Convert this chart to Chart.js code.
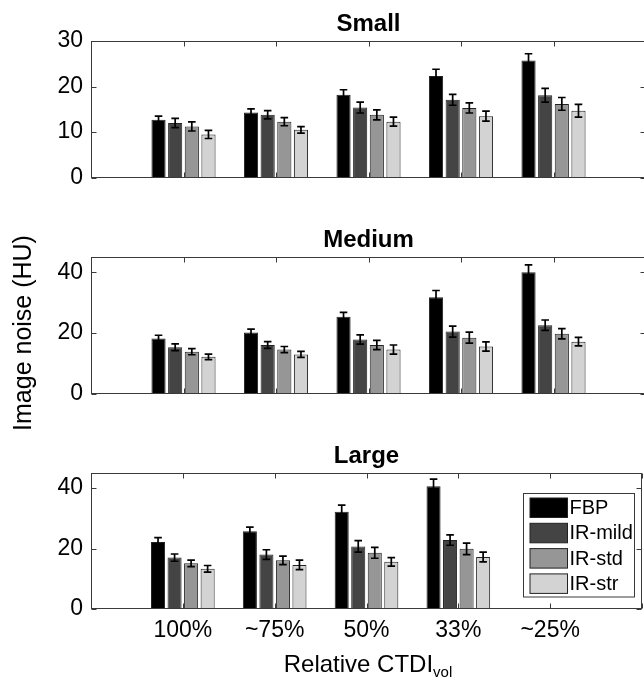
<!DOCTYPE html>
<html><head><meta charset="utf-8">
<script src="https://cdn.jsdelivr.net/npm/chart.js@4.4.1/dist/chart.umd.min.js"></script>
<style>
html,body{margin:0;padding:0;background:#fff;overflow:hidden;width:644px;height:683px;}
#wrap{position:relative;width:644px;height:683px;overflow:hidden;background:#fff;}
canvas{position:absolute;left:0;}
.lbl{position:absolute;font-family:'Liberation Sans',Arial,sans-serif;color:#000;white-space:nowrap;text-align:center;}
#ylab{left:-108px;top:319px;width:260px;height:28px;line-height:28px;font-size:25px;transform:rotate(-90deg);}
#xlab{left:68px;top:650px;width:600px;height:28px;line-height:28px;font-size:24px;}
#xlab sub{font-size:15px;line-height:0;vertical-align:-5px;}
</style></head><body>
<div id="wrap">
<canvas id="c1" width="650" height="216" style="top:0px"></canvas>
<canvas id="c2" width="650" height="216" style="top:216px"></canvas>
<canvas id="c3" width="650" height="251" style="top:432px"></canvas>
<div class="lbl" id="ylab">Image noise (HU)</div>
<div class="lbl" id="xlab">Relative CTDI<sub>vol</sub></div>
</div>
<script>
// ---------- data ----------
const categories = ['100%', '~75%', '50%', '33%', '~25%'];
const seriesNames = ['FBP', 'IR-mild', 'IR-std', 'IR-str'];

const smallTicks = [0, 10, 20, 30];
const mediumTicks = [0, 20, 40];
const largeTicks = [0, 20, 40];

// Small phantom
const smallFBP = [12.7, 14.3, 18.2, 22.3, 25.7];
const smallFBPErr = [0.8, 0.8, 1.1, 1.5, 1.5];
const smallMild = [12.0, 13.8, 15.4, 17.1, 18.1];
const smallMildErr = [1.0, 0.9, 1.2, 1.2, 1.5];
const smallStd = [11.25, 12.3, 13.8, 15.3, 16.2];
const smallStdErr = [1.0, 0.9, 1.1, 1.1, 1.4];
const smallStr = [9.5, 10.5, 12.3, 13.5, 14.7];
const smallStrErr = [0.9, 0.7, 1.0, 1.1, 1.4];

// Medium phantom
const mediumFBP = [18.2, 20.2, 25.4, 31.8, 40.0];
const mediumFBPErr = [1.1, 1.1, 1.4, 2.2, 2.4];
const mediumMild = [15.35, 16.1, 17.9, 20.5, 22.6];
const mediumMildErr = [1.1, 1.1, 1.5, 1.8, 1.7];
const mediumStd = [13.9, 14.6, 16.1, 18.5, 19.8];
const mediumStdErr = [1.0, 1.0, 1.5, 1.8, 1.7];
const mediumStr = [12.2, 13.0, 14.6, 15.6, 17.2];
const mediumStrErr = [0.9, 1.0, 1.5, 1.5, 1.4];

// Large phantom (no ~25% data)
const largeFBP = [22.2, 25.7, 32.2, 40.6, null];
const largeFBPErr = [1.4, 1.4, 2.2, 2.4, null];
const largeMild = [17.0, 18.0, 20.7, 22.8, null];
const largeMildErr = [1.2, 1.6, 1.9, 1.7, null];
const largeStd = [15.1, 16.1, 18.6, 19.9, null];
const largeStdErr = [1.1, 1.4, 1.8, 1.9, null];
const largeStr = [13.3, 14.6, 15.6, 17.2, null];
const largeStrErr = [1.1, 1.6, 1.4, 1.6, null];

// ---------- styles ----------
const FONT = "'Liberation Sans', Arial, Helvetica, sans-serif";
const seriesColors = ['#000000', '#444444', '#969696', '#d3d3d3'];
const edgeColor = '#222222';
const axisColor = '#3a3a3a';

// padded category axis: empty slot on each side like the original
const xLabels = [''].concat(categories, ['']);
function pad(arr) { return [null].concat(arr, [null]); }

function makeDatasets(vals, errs) {
  return seriesNames.map((name, i) => ({
    label: name,
    data: pad(vals[i]),
    errors: pad(errs[i]),
    backgroundColor: seriesColors[i],
    borderColor: edgeColor,
    borderWidth: 1,
    categoryPercentage: 0.72,
    barPercentage: 0.85
  }));
}

const framePlugin = {
  id: 'frame',
  beforeDatasetsDraw(chart) {
    const ctx = chart.ctx, a = chart.chartArea, xs = chart.scales.x, ys = chart.scales.y;
    ctx.save();
    ctx.strokeStyle = axisColor;
    ctx.lineWidth = 1;
    ctx.beginPath();
    const L = Math.round(a.left) + 0.5, R = Math.round(a.right) - 0.5;
    const T = Math.round(a.top) + 0.5, B = Math.round(a.bottom) - 0.5;
    xs.ticks.forEach((t, i) => {
      const px = Math.round(xs.getPixelForTick(i)) + 0.5;
      ctx.moveTo(px, T); ctx.lineTo(px, T + 5);
      ctx.moveTo(px, B); ctx.lineTo(px, B - 5);
    });
    ys.ticks.forEach(t => {
      const py = Math.round(ys.getPixelForValue(t.value)) + 0.5;
      ctx.moveTo(L, py); ctx.lineTo(L + 5, py);
      ctx.moveTo(R, py); ctx.lineTo(R - 5, py);
    });
    ctx.stroke();
    ctx.strokeRect(L, T, R - L, B - T);
    ctx.restore();
  },
  afterDatasetsDraw(chart) {
    const ctx = chart.ctx, a = chart.chartArea;
    ctx.save();
    ctx.strokeStyle = axisColor;
    ctx.lineWidth = 1;
    const B = Math.round(a.bottom) - 0.5;
    ctx.beginPath(); ctx.moveTo(a.left, B); ctx.lineTo(a.right, B); ctx.stroke();
    ctx.restore();
  }
};

const errorBarPlugin = {
  id: 'errorBars',
  afterDatasetsDraw(chart) {
    const ctx = chart.ctx, ys = chart.scales.y;
    ctx.save();
    ctx.strokeStyle = '#000';
    ctx.lineWidth = 1.7;
    chart.data.datasets.forEach((ds, di) => {
      const meta = chart.getDatasetMeta(di);
      meta.data.forEach((bar, i) => {
        const v = ds.data[i], e = ds.errors[i];
        if (v == null || e == null) return;
        const x = bar.x;
        const yt = ys.getPixelForValue(v + e), yb = ys.getPixelForValue(v - e);
        ctx.beginPath();
        ctx.moveTo(x, yt); ctx.lineTo(x, yb);
        ctx.moveTo(x - 3.8, yt); ctx.lineTo(x + 3.8, yt);
        ctx.moveTo(x - 3.8, yb); ctx.lineTo(x + 3.8, yb);
        ctx.stroke();
      });
    });
    ctx.restore();
  }
};

const boxLegendPlugin = {
  id: 'boxLegend',
  afterDraw(chart, args, opts) {
    if (!opts || !opts.display) return;
    const ctx = chart.ctx, a = chart.chartArea;
    const w = 111, h = 103.5;
    const left = Math.round(a.right - 119) + 0.5, top = Math.round(a.top + 20) + 0.5;
    ctx.save();
    ctx.fillStyle = '#fff';
    ctx.fillRect(left, top, w, h);
    ctx.strokeStyle = axisColor;
    ctx.lineWidth = 1;
    ctx.strokeRect(left, top, w, h);
    ctx.font = '20px ' + FONT;
    ctx.textBaseline = 'middle';
    ctx.textAlign = 'left';
    chart.data.datasets.forEach((ds, i) => {
      const sy = top + 4.5 + i * 25.3;
      ctx.fillStyle = ds.backgroundColor;
      ctx.fillRect(left + 6.5, sy, 37.5, 19.5);
      ctx.strokeStyle = edgeColor;
      ctx.strokeRect(left + 6.5, sy, 37.5, 19.5);
      ctx.fillStyle = '#000';
      ctx.fillText(ds.label, left + 46, sy + 10.5);
    });
    ctx.restore();
  }
};

function makePanel(id, title, yMax, yTicks, vals, errs, showX, showLegend, padBottom) {
  return new Chart(document.getElementById(id), {
    type: 'bar',
    data: { labels: xLabels, datasets: makeDatasets(vals, errs) },
    plugins: [framePlugin, errorBarPlugin, boxLegendPlugin],
    options: {
      responsive: false,
      animation: false,
      events: [],
      layout: { padding: { top: 10.2, bottom: padBottom, left: 0, right: 4 } },
      plugins: {
        legend: { display: false },
        tooltip: { enabled: false },
        boxLegend: { display: showLegend },
        title: {
          display: true, text: title, fullSize: false, color: '#000',
          font: { family: FONT, size: 24, weight: 'bold' },
          padding: { top: 0, bottom: 2 }
        }
      },
      scales: {
        x: {
          type: 'category', offset: false, display: showX,
          grid: { display: false, drawTicks: false }, border: { display: false },
          ticks: { font: { family: FONT, size: 23 }, color: '#000', padding: 8,
                   autoSkip: false, maxRotation: 0, minRotation: 0 },
          afterFit(s) { if (s.options.display) s.height = 40; }
        },
        y: {
          min: 0, max: yMax,
          grid: { display: false, drawTicks: false }, border: { display: false },
          ticks: { font: { family: FONT, size: 23 }, color: '#000', padding: 8 },
          afterBuildTicks(s) { s.ticks = yTicks.map(v => ({ value: v })); },
          afterFit(s) { s.width = 91; }
        }
      }
    }
  });
}

makePanel('c1', 'Small', 30, smallTicks,
  [smallFBP, smallMild, smallStd, smallStr],
  [smallFBPErr, smallMildErr, smallStdErr, smallStrErr], false, false, 38.3);
makePanel('c2', 'Medium', 45, mediumTicks,
  [mediumFBP, mediumMild, mediumStd, mediumStr],
  [mediumFBPErr, mediumMildErr, mediumStdErr, mediumStrErr], false, false, 38);
makePanel('c3', 'Large', 45, largeTicks,
  [largeFBP, largeMild, largeStd, largeStr],
  [largeFBPErr, largeMildErr, largeStdErr, largeStrErr], true, true, 34);
</script>
</body></html>
